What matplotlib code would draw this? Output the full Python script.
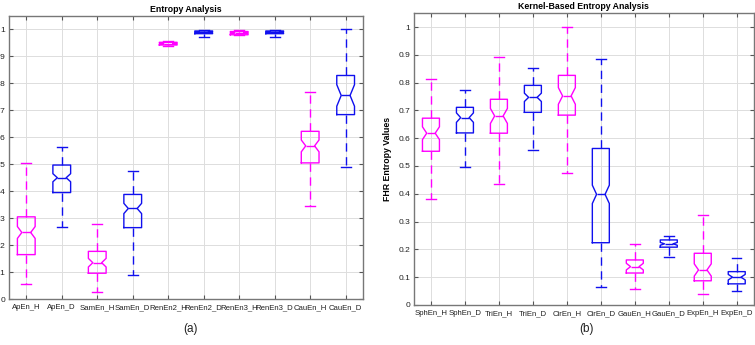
import matplotlib
matplotlib.use('Agg')
import matplotlib.pyplot as plt

plt.rcParams['font.family'] = ['Liberation Sans', 'DejaVu Sans']

# (a) classic entropy measures
labels_a = ['ApEn_H', 'ApEn_D', 'SamEn_H', 'SamEn_D', 'RenEn2_H',
            'RenEn2_D', 'RenEn3_H', 'RenEn3_D', 'CauEn_H', 'CauEn_D']
lo_a = [0.057, 0.268, 0.028, 0.088, 0.937, 0.971, 0.978, 0.971, 0.345, 0.488]
q1_a = [0.165, 0.395, 0.096, 0.265, 0.942, 0.984, 0.980, 0.984, 0.505, 0.684]
med_a = [0.247, 0.450, 0.135, 0.336, 0.947, 0.989, 0.987, 0.989, 0.568, 0.755]
q3_a = [0.305, 0.497, 0.177, 0.388, 0.952, 0.994, 0.992, 0.994, 0.622, 0.829]
hi_a = [0.505, 0.564, 0.278, 0.474, 0.957, 0.999, 0.999, 0.999, 0.767, 1.000]
notch_a = [0.022, 0.015, 0.016, 0.019, 0.002, 0.002, 0.002, 0.002, 0.022, 0.040]

# (b) kernel-based entropy measures
labels_b = ['SphEn_H', 'SphEn_D', 'TriEn_H', 'TriEn_D', 'CirEn_H',
            'CirEn_D', 'GauEn_H', 'GauEn_D', 'ExpEn_H', 'ExpEn_D']
lo_b = [0.380, 0.497, 0.437, 0.558, 0.474, 0.064, 0.057, 0.172, 0.038, 0.050]
q1_b = [0.553, 0.619, 0.618, 0.693, 0.683, 0.224, 0.115, 0.208, 0.087, 0.076]
med_b = [0.618, 0.674, 0.680, 0.747, 0.752, 0.398, 0.138, 0.220, 0.126, 0.100]
q3_b = [0.672, 0.711, 0.740, 0.790, 0.826, 0.563, 0.162, 0.234, 0.186, 0.120]
hi_b = [0.812, 0.773, 0.891, 0.852, 1.000, 0.884, 0.220, 0.248, 0.322, 0.170]
notch_b = [0.023, 0.017, 0.027, 0.015, 0.030, 0.033, 0.012, 0.005, 0.022, 0.010]

yticks = [0, 0.1, 0.2, 0.3, 0.4, 0.5, 0.6, 0.7, 0.8, 0.9, 1]
ytick_labels = ['0', '0.1', '0.2', '0.3', '0.4', '0.5', '0.6', '0.7', '0.8', '0.9', '1']

MAG = '#ff00ff'
BLU = '#1010ee'


def draw(ax, labels, lo, q1, med, q3, hi, notch, title):
    stats = []
    for i in range(len(labels)):
        stats.append(dict(label=labels[i], whislo=lo[i], q1=q1[i], med=med[i],
                          q3=q3[i], whishi=hi[i],
                          cilo=med[i] - notch[i], cihi=med[i] + notch[i]))
    bp = ax.bxp(stats, positions=range(1, len(labels) + 1), widths=0.5,
                capwidths=0.28, shownotches=True, showfliers=False,
                patch_artist=False)
    for i in range(len(labels)):
        c = MAG if i % 2 == 0 else BLU
        bp['boxes'][i].set(color=c, linewidth=1.0)
        bp['medians'][i].set(color=c, linewidth=1.0)
        for j in (2 * i, 2 * i + 1):
            bp['whiskers'][j].set(color=c, linewidth=1.0, linestyle=(0, (6, 4)))
            bp['caps'][j].set(color=c, linewidth=1.0)
    ax.set_xlim(0.5, len(labels) + 0.5)
    ax.set_ylim(0, 1.05)
    ax.set_yticks(yticks)
    ax.set_yticklabels(ytick_labels)
    ax.set_xticks(range(1, len(labels) + 1))
    ax.set_xticklabels(labels)
    ax.tick_params(direction='in', top=True, right=True, length=3,
                   labelsize=6.0, colors='#222222', pad=3.5)
    ax.tick_params(axis='x', labelsize=5.6)
    ax.tick_params(axis='y', pad=2.5)
    ax.tick_params(axis='both', color='#555555')
    ax.grid(True, color='#dddddd', linewidth=0.7)
    ax.set_axisbelow(True)
    for s in ax.spines.values():
        s.set_color('#777777')
        s.set_linewidth(1.0)
    ax.set_title(title, fontsize=6.3, fontweight='bold', pad=3)


fig = plt.figure(figsize=(7.55, 3.45), dpi=100)
ax1 = fig.add_axes([0.0113, 0.133, 0.47, 0.821])
ax2 = fig.add_axes([0.5483, 0.116, 0.450, 0.846])

draw(ax1, labels_a, lo_a, q1_a, med_a, q3_a, hi_a, notch_a, 'Entropy Analysis')
draw(ax2, labels_b, lo_b, q1_b, med_b, q3_b, hi_b, notch_b,
     'Kernel-Based Entropy Analysis')
ax2.set_ylabel('FHR Entropy Values', fontsize=6.3, fontweight='bold', labelpad=5)

fig.text(0.252, 0.045, '(a)', fontsize=8.5, ha='center', va='center', color='#222222')
fig.text(0.777, 0.045, '(b)', fontsize=8.5, ha='center', va='center', color='#222222')

fig.savefig('out.png', dpi=100, facecolor='white')
